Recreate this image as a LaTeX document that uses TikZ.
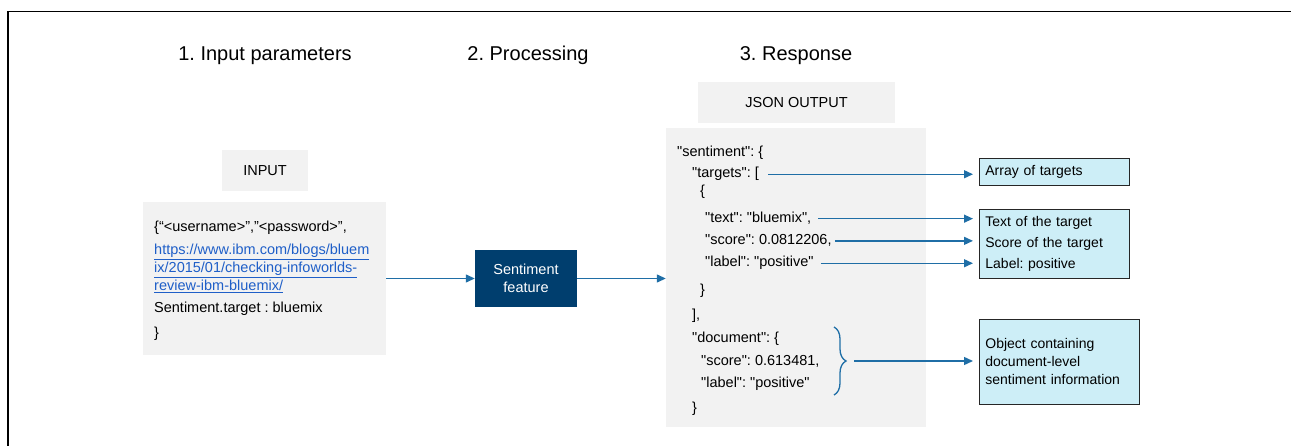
\documentclass[tikz,border=0pt]{standalone}
\usepackage{fontspec}
\setmainfont{Liberation Sans}[Ligatures=TeXOff]
\usetikzlibrary{arrows.meta,decorations.pathreplacing}
\definecolor{grayfill}{HTML}{F2F2F2}
\definecolor{navy}{HTML}{003E6E}
\definecolor{arrowblue}{HTML}{1F6EA6}
\definecolor{lightcyan}{HTML}{CDEEF7}
\definecolor{linkblue}{HTML}{1F5FC8}
\begin{document}
\frenchspacing
\begin{tikzpicture}[x=1pt,y=-1pt,
  body/.style={font=\fontsize{14.5}{17.5}\selectfont, inner sep=0pt, anchor=base west},
  linktext/.style={body, text=linkblue},
  title/.style={font=\fontsize{20}{24}\selectfont, inner sep=0pt, anchor=base},
  graybox/.style={fill=grayfill, draw=none, inner sep=0pt, font=\fontsize{14.5}{17.5}\selectfont},
  conn/.style={draw=arrowblue, line width=1.3pt, -{Triangle[length=9pt,width=8pt]}},
  note/.style={fill=lightcyan, draw=black!85, line width=0.8pt, inner xsep=6pt, inner ysep=0pt,
    align=left, text width=#1, font=\fontsize{14}{21}\selectfont},
]
\useasboundingbox (0,0) rectangle (1291,446);
\draw[line width=1.6pt] (8,446) -- (8,11.5) -- (1291,11.5);

% titles
\node[title] (t1) at (265,61) {1. Input parameters};
\node[title] (t2) at (528,61) {2. Processing};
\node[title] (t3) at (796,61) {3. Response};

% input
\node[graybox, minimum width=86, minimum height=41] (inlabel) at (265,170.5) {INPUT};
\node[graybox, minimum width=243, minimum height=153] (inbox) at (264.5,278.5) {};
\node[body] (i1) at (154,232) {\{“<username>”,”<password>”,};
\node[linktext] (i2) at (154,255) {\underline{https://www.ibm.com/blogs/bluem}};
\node[linktext] (i3) at (154,273) {\underline{ix/2015/01/checking-infoworlds-}};
\node[linktext] (i4) at (154,291) {\underline{review-ibm-bluemix/}};
\node[body] (i5) at (154,313) {Sentiment.target : bluemix};
\node[body] (i6) at (154,338) {\}};

% processing
\node[fill=navy, text=white, minimum width=102, minimum height=57, inner sep=0pt,
  align=center, font=\fontsize{14.5}{18}\selectfont] (feat) at (526,278.5) {Sentiment\\feature};

% response
\node[graybox, minimum width=197, minimum height=41] (jlabel) at (796.5,102.5) {JSON OUTPUT};
\node[graybox, minimum width=260, minimum height=299] (json) at (796,277.5) {};
\node[body] (r1) at (677,157) {"sentiment": \{};
\node[body] (r2) at (692,178) {"targets": [};
\node[body] (r3) at (700,196) {\{};
\node[body] (r4) at (705,223) {"text": "bluemix",};
\node[body] (r5) at (705,245) {"score": 0.0812206,};
\node[body] (r6) at (705,267) {"label": "positive"};
\node[body] (r7) at (700,295) {\}};
\node[body] (r8) at (692,320) {],};
\node[body] (r9) at (692,343) {"document": \{};
\node[body] (r10) at (701,366) {"score": 0.613481,};
\node[body] (r11) at (701,388) {"label": "positive"};
\node[body] (r12) at (692,413) {\}};

% notes
\node[note=138pt, minimum height=27, anchor=north west] (arr) at (979,158) {Array of targets};
\node[note=138pt, minimum height=69, anchor=north west] (tgt) at (979,209) {Text of the target\\Score of the target\\Label: positive};
\node[note=148pt, minimum height=85, anchor=north west, font=\fontsize{14}{18}\selectfont] (obj) at (979,319) {Object containing\\document-level\\sentiment information};

% connectors
\draw[conn] (inbox.east) -- (feat.west);
\draw[conn] (feat.east) -- (feat.east -| json.west);
\draw[conn, shorten <=9pt, shorten >=6pt] (r2.east) -- (r2.east -| arr.west);
\draw[conn, shorten <=7pt, shorten >=6pt] (r4.east) -- (r4.east -| tgt.west);
\draw[conn, shorten <=3pt, shorten >=6pt] (r5.east) -- (r5.east -| tgt.west);
\draw[conn, shorten <=7pt, shorten >=6pt] (r6.east) -- (r6.east -| tgt.west);

\draw[arrowblue, line width=1.3pt, decorate, decoration={brace, amplitude=12pt}] (834,327) -- (834,395);
\coordinate (btip) at (854,361);
\draw[conn, shorten >=6pt] (btip) -- (btip -| obj.west);
\end{tikzpicture}
\end{document}
